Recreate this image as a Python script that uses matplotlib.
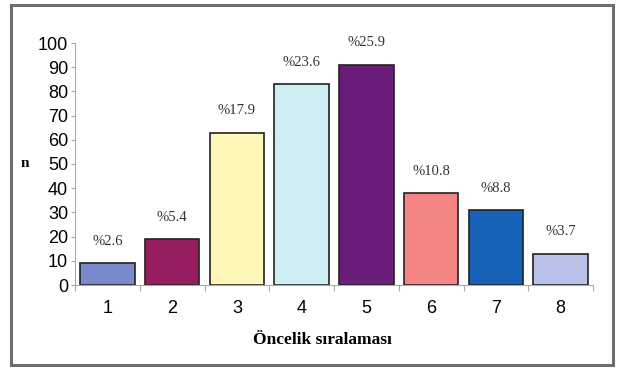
import matplotlib
matplotlib.use("Agg")
import matplotlib.pyplot as plt
from matplotlib.patches import Rectangle

categories = ["1", "2", "3", "4", "5", "6", "7", "8"]
counts = [9, 19, 63, 83, 91, 38, 31, 13]
pct_labels = ["%2.6", "%5.4", "%17.9", "%23.6", "%25.9", "%10.8", "%8.8", "%3.7"]
colors = ["#7A88CC", "#981C60", "#FFF7B8", "#CDEEF3", "#6A1E7A", "#F58484", "#1662B8", "#B9C1E8"]
yticks = [0, 10, 20, 30, 40, 50, 60, 70, 80, 90, 100]

fig = plt.figure(figsize=(6.2, 3.69), dpi=100)
fig.patch.set_facecolor("white")
# outer frame
fig.add_artist(Rectangle((11/620, 4/369), 602/620, 360/369, transform=fig.transFigure,
                         fill=False, edgecolor="#6E6E6E", linewidth=2.2))

ax = fig.add_axes([75/620, 1 - 285/369, 518/620, 242/369])
x = list(range(1, len(categories) + 1))
ax.bar(x, counts, width=0.845, color=colors, edgecolor="#222222", linewidth=1.2)
for xi, c, lab in zip(x, counts, pct_labels):
    ax.text(xi, c + 9, lab, ha="center", va="center", fontsize=10.5,
            family="Liberation Serif", color="#333333")

ax.set_xlim(0.5, 8.5)
ax.set_ylim(0, 100)
ax.set_yticks(yticks)
ax.set_yticklabels([str(v) for v in yticks], fontsize=13, family="Liberation Sans")
ax.set_xticks(x)
ax.set_xticklabels(categories, fontsize=13, family="Liberation Sans")
ax.tick_params(axis="x", length=0, pad=11)
ax.set_xticks([i + 0.5 for i in range(0, 9)], minor=True)
ax.tick_params(axis="x", which="minor", length=4, color="#AAAAAA", width=0.8)
ax.tick_params(axis="y", length=3, color="#AAAAAA", width=0.8, pad=2)
for s in ["top", "right"]:
    ax.spines[s].set_visible(False)
ax.spines["left"].set_color("#AAAAAA")
ax.spines["bottom"].set_color("#AAAAAA")

fig.text(25/620, 1 - 163/369, "n", fontsize=11, fontweight="bold",
         family="Liberation Serif", ha="center", va="center")
fig.text(322/620, 1 - 340/369, "Öncelik sıralaması", fontsize=12.5, fontweight="bold",
         family="Liberation Serif", ha="center", va="center")

fig.savefig("out.png", dpi=100, facecolor="white")
